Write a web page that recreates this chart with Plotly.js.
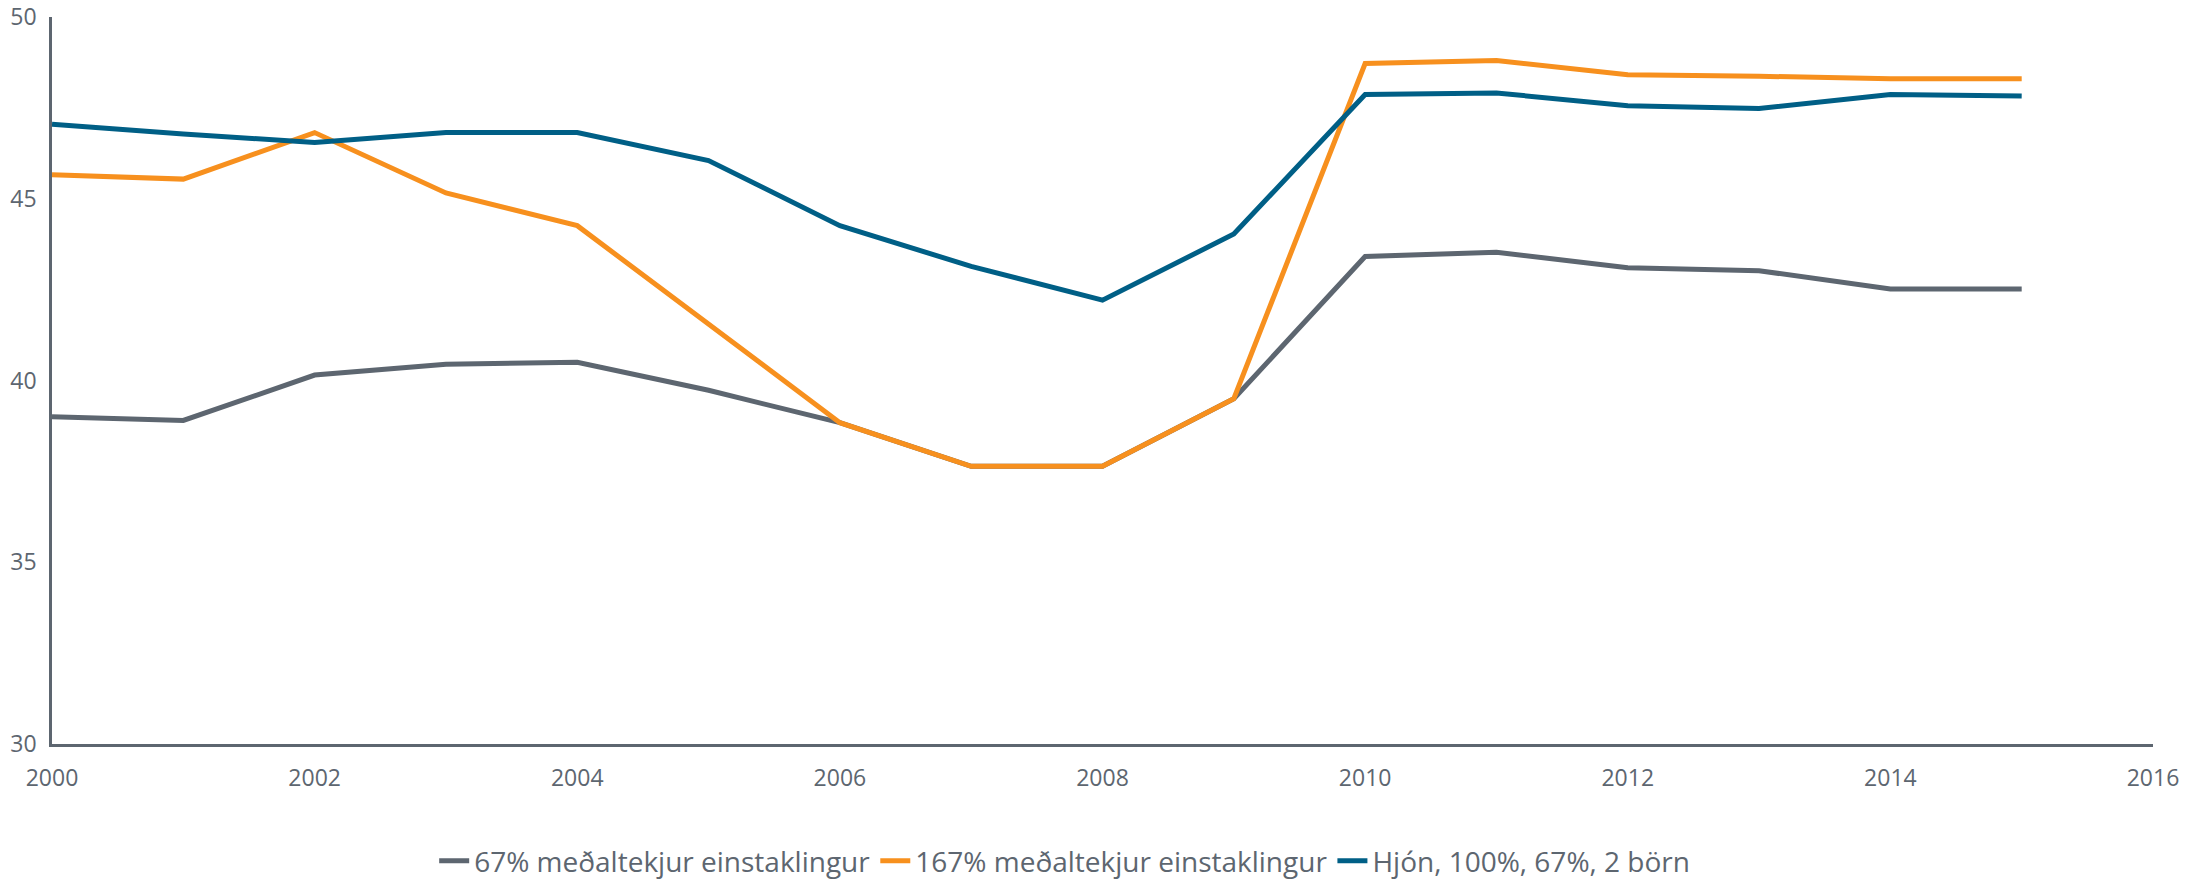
<!DOCTYPE html>
<html>
<head>
<meta charset="utf-8">
<script src="https://cdn.plot.ly/plotly-3.0.1.min.js"></script>
<style>
  html, body { margin: 0; padding: 0; background: #fff; }
  #chart { width: 2209px; height: 884px; }
</style>
</head>
<body>
<div id="chart"></div>
<script>
const ar = [2000, 2001, 2002, 2003, 2004, 2005, 2006, 2007, 2008, 2009, 2010, 2011, 2012, 2013, 2014, 2015];

const einst67 = [39.0, 38.9, 40.15, 40.45, 40.5, 39.73, 38.84, 37.64, 37.64, 39.5, 43.41, 43.53, 43.1, 43.02, 42.52, 42.52];
const einst167 = [45.66, 45.54, 46.82, 45.16, 44.26, 41.55, 38.84, 37.64, 37.64, 39.5, 48.72, 48.8, 48.41, 48.37, 48.3, 48.3];
const hjon = [47.05, 46.78, 46.55, 46.82, 46.82, 46.05, 44.26, 43.14, 42.21, 44.03, 47.87, 47.91, 47.56, 47.48, 47.87, 47.83];

const heiti = ["67% meðaltekjur einstaklingur", "167% meðaltekjur einstaklingur", "Hjón, 100%, 67%, 2 börn"];
const litir = ["#5d6670", "#f7901e", "#005f86"];

const textalitur = "#5d6670";

const gogn = [einst67, einst167, hjon].map((y, i) => ({
  x: ar,
  y: y,
  name: heiti[i],
  type: "scatter",
  mode: "lines",
  line: { color: litir[i], width: 5 }
}));

Plotly.newPlot("chart", gogn, {
  width: 2209,
  height: 884,
  margin: { l: 52, r: 56, t: 17, b: 140 },
  paper_bgcolor: "#fff",
  plot_bgcolor: "#fff",
  font: { family: "Open Sans, sans-serif", color: textalitur, size: 23 },
  showlegend: true,
  legend: {
    orientation: "h",
    xref: "paper",
    x: 0.482,
    xanchor: "center",
    yref: "container",
    y: 0.026,
    yanchor: "middle",
    font: { size: 28, color: textalitur }
  },
  xaxis: {
    range: [2000, 2016],
    dtick: 2,
    tick0: 2000,
    showgrid: false,
    zeroline: false,
    showline: true,
    linecolor: textalitur,
    linewidth: 2.5,
    ticks: "",
    ticklabelstandoff: 12
  },
  yaxis: {
    range: [30, 50],
    dtick: 5,
    showgrid: false,
    zeroline: false,
    showline: true,
    linecolor: textalitur,
    linewidth: 2.5,
    ticks: "",
    ticklabelstandoff: 8
  }
}, { displayModeBar: false });
</script>
</body>
</html>
